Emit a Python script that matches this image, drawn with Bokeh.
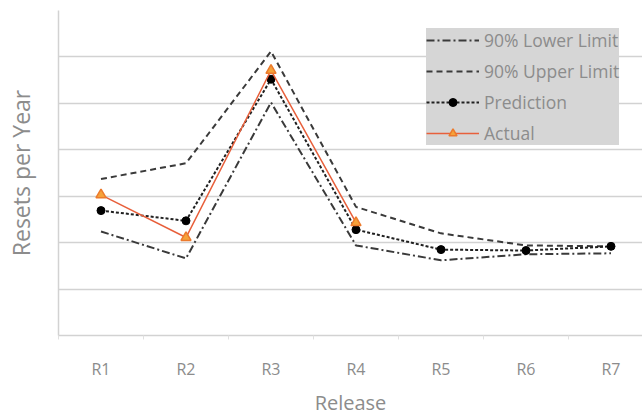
from bokeh.plotting import figure
from bokeh.models import Range1d, FixedTicker, Legend, LegendItem
from bokeh.embed import file_html
from bokeh.resources import INLINE

releases = ["R1", "R2", "R3", "R4", "R5", "R6", "R7"]
lower_limit = [2.24, 1.66, 5.02, 1.94, 1.62, 1.75, 1.77]
upper_limit = [3.37, 3.71, 6.12, 2.77, 2.20, 1.94, 1.92]
prediction = [2.69, 2.47, 5.52, 2.28, 1.85, 1.83, 1.92]
actual = [3.03, 2.11, 5.71, 2.43]
grid_levels = [1, 2, 3, 4, 5, 6, 7]

xpos = [i + 0.5 for i in range(len(releases))]
xact = xpos[:len(actual)]

FONT = "Open Sans"
GRID = "#d2d2d2"
TXT = "#8c8c8c"
DARK = "#3a3a3a"

p = figure(width=642, height=418, output_backend="svg", toolbar_location=None,
           x_range=Range1d(0, 584 / 85.0), y_range=Range1d(0, 7),
           min_border_left=58, min_border_right=0, min_border_top=10, min_border_bottom=80)
p.outline_line_color = None
p.background_fill_color = "white"
p.border_fill_color = "white"

# axes
p.xaxis.ticker = FixedTicker(ticks=xpos, minor_ticks=list(range(0, 8)))
p.xaxis.major_label_overrides = {x: r for x, r in zip(xpos, releases)}
p.xaxis.major_tick_line_color = None
p.xaxis.major_tick_out = 0
p.xaxis.major_tick_in = 0
p.xaxis.minor_tick_line_color = "#e0e0e0"
p.xaxis.minor_tick_out = 4
p.xaxis.minor_tick_in = 0
p.xaxis.axis_line_color = GRID
p.xaxis.axis_line_width = 1.5
p.xaxis.major_label_text_font = FONT
p.xaxis.major_label_text_font_size = "16px"
p.xaxis.major_label_text_color = TXT
p.xaxis.major_label_standoff = 18
p.xaxis.axis_label = "Release"
p.xaxis.axis_label_text_font = FONT
p.xaxis.axis_label_text_font_size = "20px"
p.xaxis.axis_label_text_font_style = "normal"
p.xaxis.axis_label_text_color = TXT
p.xaxis.axis_label_standoff = 6

p.yaxis.ticker = FixedTicker(ticks=[])
p.yaxis.axis_line_color = GRID
p.yaxis.axis_line_width = 1.5
p.yaxis.major_tick_line_color = None
p.yaxis.major_tick_out = 0
p.yaxis.major_tick_in = 0
p.yaxis.minor_tick_line_color = None
p.yaxis.axis_label = "Resets per Year"
p.yaxis.axis_label_text_font = FONT
p.yaxis.axis_label_text_font_size = "23px"
p.yaxis.axis_label_text_font_style = "normal"
p.yaxis.axis_label_text_color = TXT
p.yaxis.axis_label_standoff = 22

p.xgrid.grid_line_color = None
p.ygrid.ticker = FixedTicker(ticks=grid_levels)
p.ygrid.grid_line_color = GRID
p.ygrid.grid_line_width = 1.5

# series
r_low = p.line(xpos, lower_limit, line_color=DARK, line_width=2, line_dash="8 3 2 3")
r_up = p.line(xpos, upper_limit, line_color=DARK, line_width=2, line_dash="6 4")
r_pl = p.line(xpos, prediction, line_color="#202020", line_width=2, line_dash="3 2")
r_ps = p.scatter(xpos, prediction, marker="circle", size=8, fill_color="black", line_color="black")
r_al = p.line(xact, actual, line_color="#e8603c", line_width=1.5)
r_as = p.scatter(xact, actual, marker="triangle", size=10, fill_color="#f5a23a",
                 line_color="#ec7a2c", line_width=1.5)

legend = Legend(items=[
    LegendItem(label="90% Lower Limit", renderers=[r_low]),
    LegendItem(label="90% Upper Limit", renderers=[r_up]),
    LegendItem(label="Prediction", renderers=[r_pl, r_ps]),
    LegendItem(label="Actual", renderers=[r_al, r_as]),
], location=(368, 190))
legend.background_fill_color = "#d6d6d6"
legend.background_fill_alpha = 1.0
legend.border_line_color = None
legend.padding = 6
legend.margin = 0
legend.spacing = 7
legend.glyph_width = 53
legend.glyph_height = 20
legend.label_standoff = 5
legend.label_text_font = FONT
legend.label_text_font_size = "17.5px"
legend.label_text_color = TXT
p.add_layout(legend)

open("out.html", "w").write(file_html(p, INLINE))
